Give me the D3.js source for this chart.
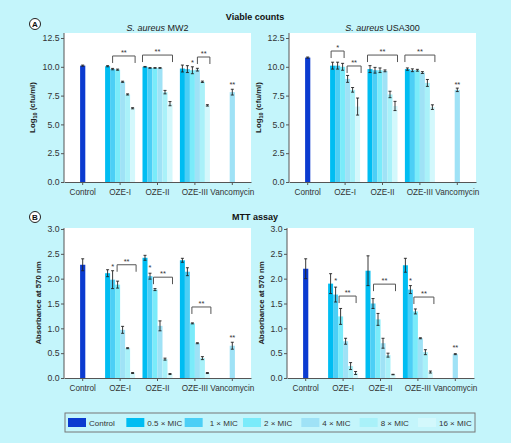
<!DOCTYPE html>
<html><head><meta charset="utf-8">
<script src="https://cdn.jsdelivr.net/npm/d3@7"></script>
<style>
body{margin:0;background:#c4f5fb}
svg{display:block;font-family:"Liberation Sans",Arial,sans-serif}
</style></head>
<body><svg id="c" width="511" height="443"></svg>
<script>
// ---------- data ----------
const categories = ["Control","OZE-I","OZE-II","OZE-III","Vancomycin"];
const doses = ["Control","0.5 × MIC","1 × MIC","2 × MIC","4 × MIC","8 × MIC","16 × MIC"];
const viableTicks = [0,2.5,5,7.5,10,12.5];
const mttTicks = [0,0.5,1,1.5,2,2.5,3];

// [group, doseIndex, mean, error]
const viableMW2 = [
  ["Control",0,10.1,0.05],
  ["OZE-I",1,10.05,0.05],["OZE-I",2,9.8,0.06],["OZE-I",3,9.75,0.05],["OZE-I",4,8.7,0.05],["OZE-I",5,7.6,0.05],["OZE-I",6,6.4,0.05],
  ["OZE-II",1,10.0,0.03],["OZE-II",2,9.9,0.03],["OZE-II",3,9.9,0.03],["OZE-II",4,9.9,0.03],["OZE-II",5,7.8,0.15],["OZE-II",6,6.8,0.18],
  ["OZE-III",1,9.85,0.3],["OZE-III",2,9.8,0.3],["OZE-III",3,9.7,0.3],["OZE-III",4,9.75,0.12],["OZE-III",5,8.7,0.06],["OZE-III",6,6.65,0.06],
  ["Vancomycin",4,7.8,0.25]
];
const viableUSA300 = [
  ["Control",0,10.8,0.05],
  ["OZE-I",1,10.1,0.3],["OZE-I",2,10.1,0.3],["OZE-I",3,10.0,0.3],["OZE-I",4,8.95,0.3],["OZE-I",5,8.0,0.2],["OZE-I",6,6.55,0.74],
  ["OZE-II",1,9.8,0.3],["OZE-II",2,9.7,0.25],["OZE-II",3,9.7,0.2],["OZE-II",4,9.65,0.08],["OZE-II",5,7.6,0.28],["OZE-II",6,6.6,0.4],
  ["OZE-III",1,9.8,0.1],["OZE-III",2,9.7,0.12],["OZE-III",3,9.7,0.08],["OZE-III",4,9.5,0.08],["OZE-III",5,8.6,0.3],["OZE-III",6,6.5,0.2],
  ["Vancomycin",4,8.0,0.15]
];
const mttMW2 = [
  ["Control",0,2.28,0.12],
  ["OZE-I",1,2.11,0.07],["OZE-I",2,1.98,0.18],["OZE-I",3,1.88,0.07],["OZE-I",4,0.97,0.07],["OZE-I",5,0.6,0.01],["OZE-I",6,0.1,0.01],
  ["OZE-II",1,2.42,0.05],["OZE-II",2,2.05,0.06],["OZE-II",3,1.78,0.02],["OZE-II",4,1.05,0.1],["OZE-II",5,0.38,0.02],["OZE-II",6,0.08,0.01],
  ["OZE-III",1,2.37,0.04],["OZE-III",2,2.14,0.08],["OZE-III",3,1.1,0.01],["OZE-III",4,0.7,0.01],["OZE-III",5,0.4,0.03],["OZE-III",6,0.1,0.01],
  ["Vancomycin",4,0.65,0.07]
];
const mttUSA300 = [
  ["Control",0,2.2,0.2],
  ["OZE-I",1,1.9,0.2],["OZE-I",2,1.68,0.15],["OZE-I",3,1.24,0.16],["OZE-I",4,0.74,0.06],["OZE-I",5,0.24,0.07],["OZE-I",6,0.1,0.03],
  ["OZE-II",1,2.16,0.3],["OZE-II",2,1.5,0.1],["OZE-II",3,1.18,0.12],["OZE-II",4,0.7,0.1],["OZE-II",5,0.46,0.04],["OZE-II",6,0.07,0.005],
  ["OZE-III",1,2.27,0.14],["OZE-III",2,1.78,0.08],["OZE-III",3,1.34,0.05],["OZE-III",4,0.8,0.01],["OZE-III",5,0.52,0.05],["OZE-III",6,0.12,0.02],
  ["Vancomycin",4,0.48,0.01]
];

// significance marks: [group, fromBar, toBar (null = single mark), value, label]
const viableMW2Sig = [
  ["OZE-I",1.5,6,10.94,"**"],["OZE-II",0,6,11.02,"**"],["OZE-III",3.5,6,10.85,"**"],
  ["OZE-III",2.5,null,10.5,"*"],["Vancomycin",3,null,8.6,"**"]
];
const viableUSA300Sig = [
  ["OZE-I",0.2,2.8,11.37,"*"],["OZE-I",3.4,6.2,10.07,"**"],["OZE-II",0,6,11.02,"**"],
  ["OZE-III",0,6,11.02,"**"],["Vancomycin",3,null,8.6,"**"]
];
const mttMW2Sig = [
  ["OZE-I",1.5,null,2.28,"*"],["OZE-I",2.4,6.2,2.28,"**"],["OZE-II",1.5,null,2.25,"*"],
  ["OZE-II",2.2,6,2.03,"**"],["OZE-III",2.4,6.2,1.43,"**"],["Vancomycin",3,null,0.85,"**"]
];
const mttUSA300Sig = [
  ["OZE-I",1.5,null,2.0,"*"],["OZE-I",2.2,5.6,1.65,"**"],["OZE-II",1.6,6,1.89,"**"],
  ["OZE-III",1.5,null,2.0,"*"],["OZE-III",2.2,6.2,1.63,"**"],["Vancomycin",3,null,0.64,"**"]
];

// ---------- style ----------
const doseColors = ["#0b3bd0","#00bdf2","#4ccff6","#7aebfa","#9fe2f6","#a9f1f9","#d3f8fc"];
const color = d3.scaleOrdinal().domain(d3.range(7)).range(doseColors);
const svg = d3.select("#c");
const ink = "#333";

function panel(cfg){
  const g = svg.append("g");
  const x = d3.scaleBand().domain(categories).range([cfg.x0, cfg.x0 + 187]);
  const y = d3.scaleLinear().domain(cfg.domain).range([cfg.bottom, cfg.top]);
  const u = d3.scaleLinear().domain([0,6]).range([-15,15]);
  const cx = c => x(c) + x.bandwidth()/2;

  g.append("rect").attr("x", cfg.x0).attr("y", cfg.plotTop)
    .attr("width", 187).attr("height", cfg.bottom - cfg.plotTop).attr("fill","#fff");

  const barX = d => d[1] === 0 || d[0] === "Vancomycin" ? cx(d[0]) - 2.6 : cx(d[0]) + u(d[1]-1);
  const barW = d => d[1] === 0 || d[0] === "Vancomycin" ? 5.2 : u(1) - u(0);

  g.selectAll(".bar").data(cfg.data).join("rect")
    .attr("x", barX).attr("width", barW)
    .attr("y", d => y(d[2])).attr("height", d => cfg.bottom - y(d[2]))
    .attr("fill", d => color(d[1]));

  // error bars
  const eb = g.selectAll(".eb").data(cfg.data).join("g");
  eb.append("path")
    .attr("d", d => {
      const m = barX(d) + barW(d)/2, t = y(d[2]+d[3]), b = y(d[2]-d[3]);
      return `M${m-1.5},${t}H${m+1.5}M${m},${t}V${b}M${m-1.5},${b}H${m+1.5}`;
    })
    .attr("stroke","#222").attr("stroke-width",0.9).attr("fill","none");

  // axes
  const ya = g.append("g").attr("transform",`translate(${cfg.x0},0)`)
    .call(d3.axisLeft(y).tickValues(cfg.ticks).tickFormat(d3.format(".1f")).tickSize(3).tickSizeOuter(0));
  ya.select(".domain").remove();
  ya.append("line").attr("y1", cfg.plotTop).attr("y2", cfg.bottom).attr("stroke","#555");
  ya.selectAll(".tick line").attr("stroke","#555");
  ya.selectAll(".tick text").attr("fill",ink).attr("font-size",8.7).attr("x",-4.5).attr("font-family","Liberation Sans, Arial");

  const xa = g.append("g").attr("transform",`translate(0,${cfg.bottom})`)
    .call(d3.axisBottom(x).tickSize(3).tickSizeOuter(0));
  xa.select(".domain").attr("stroke","#555");
  xa.selectAll(".tick line").attr("stroke","#555");
  xa.selectAll(".tick text").attr("fill",ink).attr("font-size",8.2).attr("y",7).attr("font-family","Liberation Sans, Arial");

  // significance
  cfg.sig.forEach(s => {
    const yy = y(s[3]);
    if (s[2] === null) {
      const xx = s[0] === "Vancomycin" ? cx(s[0]) : cx(s[0]) + u(s[1]);
      g.append("text").attr("x", xx).attr("y", yy + 4).attr("text-anchor","middle")
        .attr("font-size",7.5).attr("fill",ink).text(s[4]);
    } else {
      const x1 = cx(s[0]) + u(s[1]), x2 = cx(s[0]) + u(s[2]);
      g.append("path").attr("d",`M${x1},${yy+7}V${yy}H${x2}V${yy+7}`)
        .attr("stroke","#555").attr("stroke-width",1).attr("fill","none");
      g.append("text").attr("x",(x1+x2)/2).attr("y", yy - 1).attr("text-anchor","middle")
        .attr("font-size",7.5).attr("fill",ink).text(s[4]);
    }
  });

  // y title
  const yt = g.append("text").attr("transform",`translate(${cfg.titleX},${(cfg.plotTop+cfg.bottom)/2}) rotate(-90)`)
    .attr("text-anchor","middle").attr("font-weight","bold").attr("font-size",7.8).attr("fill","#222");
  if (cfg.log) {
    yt.append("tspan").text("Log");
    yt.append("tspan").attr("font-size",5.5).attr("dy",2).text("10");
    yt.append("tspan").attr("dy",-2).text(" (cfu/ml)");
  } else {
    yt.text("Absorbance at 570 nm");
  }
  // subtitle
  if (cfg.strain) {
    const st = g.append("text").attr("x", cfg.x0 + 93.5).attr("y", 31).attr("text-anchor","middle")
      .attr("font-size",9).attr("fill","#222");
    st.append("tspan").attr("font-style","italic").text("S. aureus");
    st.append("tspan").text(" " + cfg.strain);
  }
}

panel({data:viableMW2, sig:viableMW2Sig, x0:64, domain:[0,12.5], bottom:182, top:38, plotTop:33, ticks:viableTicks, titleX:35, log:true, strain:"MW2"});
panel({data:viableUSA300, sig:viableUSA300Sig, x0:289, domain:[0,12.5], bottom:182, top:38, plotTop:33, ticks:viableTicks, titleX:261, log:true, strain:"USA300"});
panel({data:mttMW2, sig:mttMW2Sig, x0:64, domain:[0,3], bottom:378, top:229, plotTop:228, ticks:mttTicks, titleX:41, log:false});
panel({data:mttUSA300, sig:mttUSA300Sig, x0:287, domain:[0,3], bottom:378, top:229, plotTop:228, ticks:mttTicks, titleX:264, log:false});

// titles
svg.append("text").attr("x",255).attr("y",20).attr("text-anchor","middle").attr("font-weight","bold")
  .attr("font-size",9).attr("fill","#111").text("Viable counts");
svg.append("text").attr("x",255).attr("y",220).attr("text-anchor","middle").attr("font-weight","bold")
  .attr("font-size",9).attr("fill","#111").text("MTT assay");

// panel letters
[["A",24],["B",217]].forEach(([l,yy]) => {
  svg.append("circle").attr("cx",35).attr("cy",yy).attr("r",5.5).attr("fill","#fff").attr("stroke","#222").attr("stroke-width",1);
  svg.append("text").attr("x",35).attr("y",yy+2.8).attr("text-anchor","middle").attr("font-weight","bold")
    .attr("font-size",8).attr("fill","#111").text(l);
});

// legend
const lg = svg.append("g");
lg.append("rect").attr("x",65).attr("y",413).attr("width",410).attr("height",19)
  .attr("fill","none").attr("stroke","#777").attr("stroke-width",1);
const lx = d3.scaleLinear().domain([0,6]).range([68,418]);
doses.forEach((d,i) => {
  lg.append("rect").attr("x",lx(i)).attr("y",418).attr("width",18).attr("height",9).attr("fill",color(i));
  lg.append("text").attr("x",lx(i)+21 + (i===2?4:0)).attr("y",425.5).attr("font-size",8).attr("fill",ink).text(d);
});
</script>
</body></html>
